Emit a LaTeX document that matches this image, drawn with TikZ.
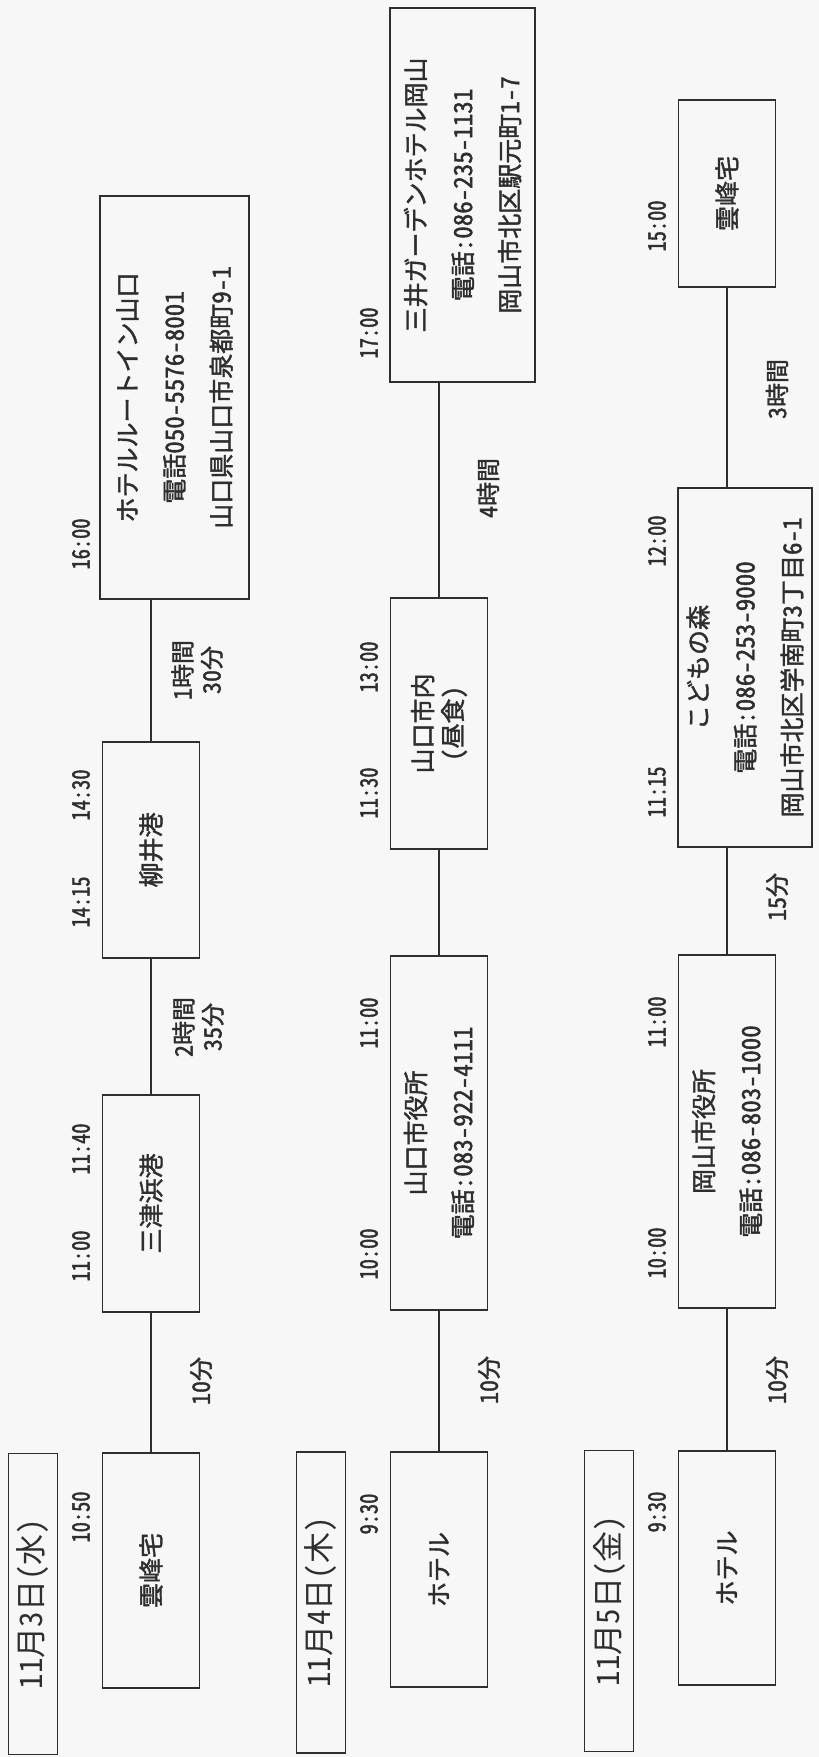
\documentclass[tikz,border=0pt]{standalone}
\usepackage{fontspec}
\setmainfont{Noto Sans CJK JP}[RawFeature=+hwid, FakeBold=1.6, UprightFeatures={FakeBold=1.6}]
\newfontfamily\narrowfont{Noto Sans CJK JP}[RawFeature=+hwid, FakeStretch=0.85, FakeBold=1.6, UprightFeatures={FakeBold=1.6}]
\newfontfamily\datefont{Noto Sans CJK JP}[RawFeature=+hwid]
\usetikzlibrary{calc}

\definecolor{ink}{gray}{0.18}
\definecolor{paper}{gray}{0.97}

\begin{document}
\begin{tikzpicture}[x=1pt, y=1pt,
        stop/.style={draw=ink, line width=1.6pt, fill=paper, text=ink, rotate=90,
            inner sep=0pt, align=center, minimum height=97,
            font=\fontsize{25}{47}\selectfont},
        datebox/.style={draw=ink, line width=1.6pt, text=ink, rotate=90, inner sep=0pt,
            minimum width=301, minimum height=49, font=\datefont\fontsize{31}{31}\selectfont},
        clock/.style={rotate=90, text=ink, inner sep=0pt, font=\narrowfont\fontsize{24}{24}\selectfont},
        leg/.style={rotate=90, text=ink, inner sep=0pt, align=center,
            font=\fontsize{24}{29}\selectfont},
        link/.style={draw=ink, line width=1.3pt}]

        \fill[paper] (0,0) rectangle (819,1757);
        \useasboundingbox (0,0) rectangle (819,1757);

        % Day 1: 11/3
        \begin{scope}[shift={(0,0)}]
            \node[datebox] (d1date) at (33,153) {11月3日（水）};

            \node[stop, minimum width=235] (d1home) at (151,186.5) {雲峰宅};
            \node[stop, minimum width=217] (d1mitsu) at (151,553.5) {三津浜港};
            \node[stop, minimum width=216] (d1yanai) at (151,907) {柳井港};
            \node[stop, minimum width=403, minimum height=149] (d1hotel) at (174.5,1359.5)
                {ホテルルートイン山口\\電話050-5576-8001\\山口県山口市泉都町9-1};

            % Times
            \foreach \t/\y [count=\i] in {10:50/240, 11:00/501, 11:40/608, 14:15/855, 14:30/962, 16:00/1213} {
                \node[clock] (d1t\i) at (81,\y) {\t};
            }

            % Legs
            \draw[link] (d1home.east) -- (d1mitsu.west);
            \draw[link] (d1mitsu.east) -- (d1yanai.west);
            \draw[link] (d1yanai.east) -- (d1yanai.east |- d1hotel.west);
            \node[leg] (d1leg1) at (201,376) {10分};
            \node[leg] (d1leg2) at (198,730) {2時間\\35分};
            \node[leg] (d1leg3) at (197,1087) {1時間\\30分};
        \end{scope}

        % Day 2: 11/4
        \begin{scope}[shift={(288,0)}]
            \node[datebox] (d2date) at (33,154.5) {11月4日（木）};

            \node[stop, minimum width=235] (d2hotel) at (151,187.5) {ホテル};
            \node[stop, minimum width=354] (d2city) at (151,624) {山口市役所\\電話:083-922-4111};
            \node[stop, minimum width=251, font=\fontsize{25}{30}\selectfont] (d2lunch) at (151,1033.5)
                {山口市内\\（昼食）};
            \node[stop, minimum width=374, minimum height=145] (d2mitsui) at (174.5,1562)
                {三井ガーデンホテル岡山\\電話:086-235-1131\\岡山市北区駅元町1-7};

            % Times
            \foreach \t/\y [count=\i] in {9:30/243, 10:00/503, 11:00/734, 11:30/964, 13:00/1090, 17:00/1424} {
                \node[clock] (d2t\i) at (81,\y) {\t};
            }

            % Legs
            \draw[link] (d2hotel.east) -- (d2city.west);
            \draw[link] (d2city.east) -- (d2lunch.west);
            \draw[link] (d2lunch.east) -- (d2lunch.east |- d2mitsui.west);
            \node[leg] (d2leg1) at (201,377) {10分};
            \node[leg] (d2leg2) at (200,1269) {4時間};
        \end{scope}

        % Day 3: 11/5
        \begin{scope}[shift={(576,0)}]
            \node[datebox] (d3date) at (33,156) {11月5日（金）};

            \node[stop, minimum width=234] (d3hotel) at (151,189) {ホテル};
            \node[stop, minimum width=353] (d3city) at (151,625.5) {岡山市役所\\電話:086-803-1000};
            \node[stop, minimum width=359, minimum height=134] (d3kids) at (169,1089.5)
                {こどもの森\\電話:086-253-9000\\岡山市北区学南町3丁目6-1};
            \node[stop, minimum width=187] (d3home) at (151,1563.5) {雲峰宅};

            % Times
            \foreach \t/\y [count=\i] in {9:30/245, 10:00/504, 11:00/735, 11:15/965, 12:00/1216, 15:00/1531} {
                \node[clock] (d3t\i) at (81,\y) {\t};
            }

            % Legs
            \draw[link] (d3hotel.east) -- (d3city.west);
            \draw[link] (d3city.east) -- (d3city.east |- d3kids.west);
            \draw[link] (d3home.west |- d3kids.east) -- (d3home.west);
            \node[leg] (d3leg1) at (201,377) {10分};
            \node[leg] (d3leg2) at (201,860) {15分};
            \node[leg] (d3leg3) at (201,1368) {3時間};
        \end{scope}

    \end{tikzpicture}
\end{document}
